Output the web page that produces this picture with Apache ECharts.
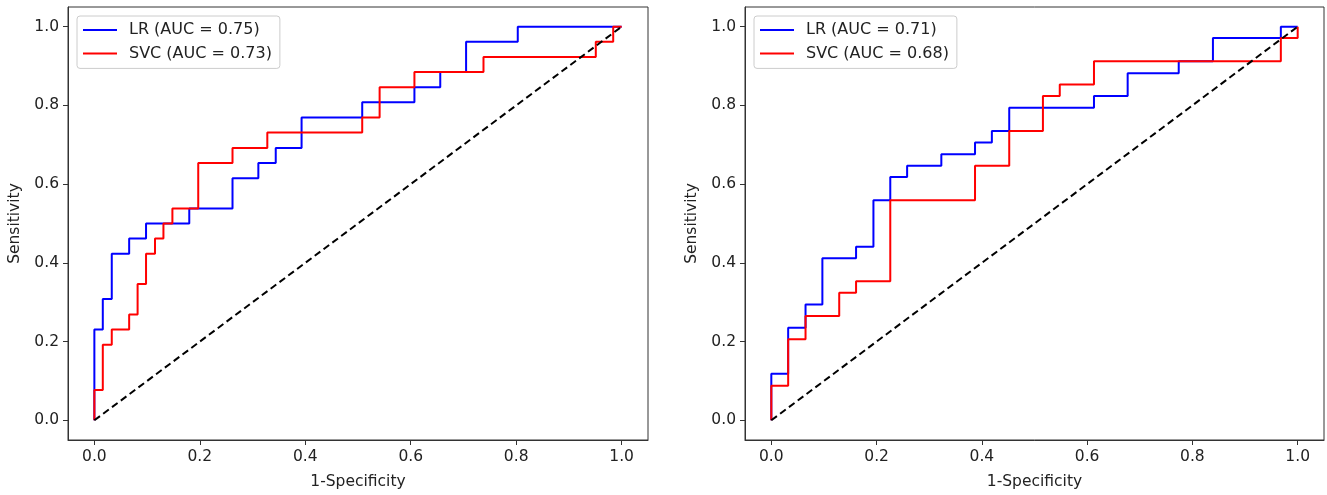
<!DOCTYPE html>
<html lang="en">
<head>
	<meta charset="UTF-8">
	<title>ROC</title>
	<style>
		*{margin:0;padding:0;}
		body{background:#fff;}
		#main{width:1327px;height:495px;}
	</style>
</head>
<body>
	<div id="main"></div>
	<script src="https://cdn.jsdelivr.net/npm/echarts@6/dist/echarts.min.js"></script>
	<script>
	// left panel
	var lrFprA = [0, 0, 0.016, 0.033, 0.066, 0.098, 0.180, 0.262, 0.311, 0.344, 0.393, 0.508, 0.607, 0.656, 0.705, 0.803, 1.0];
	var lrTprA = [0, 0.231, 0.308, 0.423, 0.462, 0.500, 0.538, 0.615, 0.654, 0.692, 0.769, 0.808, 0.846, 0.885, 0.962, 1.0, 1.0];
	var svcFprA = [0, 0, 0.016, 0.033, 0.066, 0.082, 0.098, 0.115, 0.131, 0.148, 0.197, 0.262, 0.328, 0.508, 0.541, 0.607, 0.738, 0.951, 0.984, 1.0];
	var svcTprA = [0, 0.077, 0.192, 0.231, 0.269, 0.346, 0.423, 0.462, 0.500, 0.538, 0.654, 0.692, 0.731, 0.769, 0.846, 0.885, 0.923, 0.962, 1.0, 1.0];
	// right panel
	var lrFprB = [0, 0, 0.032, 0.065, 0.097, 0.161, 0.194, 0.226, 0.258, 0.323, 0.387, 0.419, 0.452, 0.613, 0.677, 0.774, 0.839, 0.968, 1.0];
	var lrTprB = [0, 0.118, 0.235, 0.294, 0.412, 0.441, 0.559, 0.618, 0.647, 0.676, 0.706, 0.735, 0.794, 0.824, 0.882, 0.912, 0.971, 1.0, 1.0];
	var svcFprB = [0, 0, 0.032, 0.065, 0.129, 0.161, 0.226, 0.387, 0.452, 0.516, 0.548, 0.613, 0.968, 1.0];
	var svcTprB = [0, 0.088, 0.206, 0.265, 0.324, 0.353, 0.559, 0.647, 0.735, 0.824, 0.853, 0.912, 0.971, 1.0];

	var namesA = ['LR (AUC = 0.75)', 'SVC (AUC = 0.73)'];
	var namesB = ['LR (AUC = 0.71)', 'SVC (AUC = 0.68)'];
	var tickVals = [0, 0.2, 0.4, 0.6, 0.8, 1.0];
	var diag = [[0, 0], [1, 1]];

	var FS = 15.5;
	var FONT = 'DejaVu Sans';

	function pairs(xs, ys){
		var out = [];
		for(var i = 0; i < xs.length; i++){
			out.push([xs[i], ys[i]]);
		}
		return out;
	}

	function makeAxis(idx, isX){
		return {
			type: 'value',
			gridIndex: idx,
			min: -0.05,
			max: 1.05,
			name: isX ? '1-Specificity' : 'Sensitivity',
			nameLocation: 'middle',
			nameGap: isX ? 34 : 45,
			nameTextStyle: { fontFamily: FONT, fontSize: FS, color: '#222' },
			splitLine: { show: false },
			axisLine: { show: true, onZero: false, lineStyle: { color: '#333', width: 1 } },
			axisTick: { show: true, customValues: tickVals, length: 5, lineStyle: { color: '#333' } },
			axisLabel: {
				customValues: tickVals,
				margin: 9,
				fontFamily: FONT,
				fontSize: FS,
				color: '#222',
				formatter: function(v){ return v.toFixed(1); }
			}
		};
	}

	function makeLegend(left, names){
		return {
			orient: 'vertical',
			left: left,
			top: 16,
			data: names,
			icon: 'rect',
			itemWidth: 34,
			itemHeight: 2,
			itemGap: 3.4,
			padding: [4, 8, 5, 6],
			borderColor: '#cccccc',
			borderWidth: 1,
			borderRadius: 3,
			backgroundColor: '#fff',
			selectedMode: false,
			textStyle: { fontFamily: FONT, fontSize: 16, color: '#222', lineHeight: 20, padding: [0, 0, 0, 7] }
		};
	}

	function lineSeries(name, idx, data, color){
		return {
			type: 'line',
			name: name,
			xAxisIndex: idx,
			yAxisIndex: idx,
			data: data,
			step: 'end',
			showSymbol: false,
			symbol: 'none',
			lineStyle: { color: color, width: 2 },
			itemStyle: { color: color }
		};
	}

	function diagSeries(idx){
		return {
			type: 'line',
			xAxisIndex: idx,
			yAxisIndex: idx,
			data: diag,
			symbol: 'none',
			lineStyle: { color: '#000', width: 2, type: [7, 4] },
			z: 5
		};
	}

	var myChart = echarts.init(document.getElementById('main'));
	var option = {
		animation: false,
		backgroundColor: '#fff',
		grid: [
			{ left: 68, top: 7, width: 580, height: 433, show: true, borderColor: '#333', borderWidth: 1, backgroundColor: 'transparent' },
			{ left: 745, top: 7, width: 579, height: 433, show: true, borderColor: '#333', borderWidth: 1, backgroundColor: 'transparent' }
		],
		xAxis: [makeAxis(0, true), makeAxis(1, true)],
		yAxis: [makeAxis(0, false), makeAxis(1, false)],
		legend: [makeLegend(77, namesA), makeLegend(754, namesB)],
		series: [
			lineSeries(namesA[0], 0, pairs(lrFprA, lrTprA), '#0000ff'),
			lineSeries(namesA[1], 0, pairs(svcFprA, svcTprA), '#ff0000'),
			diagSeries(0),
			lineSeries(namesB[0], 1, pairs(lrFprB, lrTprB), '#0000ff'),
			lineSeries(namesB[1], 1, pairs(svcFprB, svcTprB), '#ff0000'),
			diagSeries(1)
		]
	};
	myChart.setOption(option);
	</script>
</body>
</html>
